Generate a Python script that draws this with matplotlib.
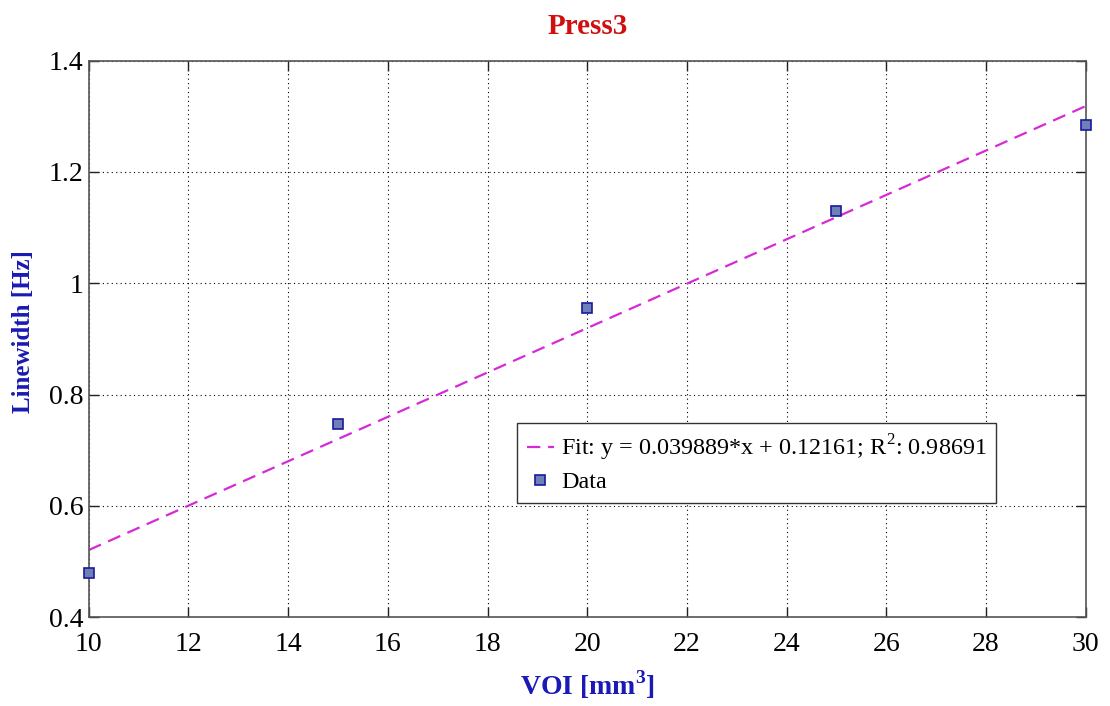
import numpy as np
import matplotlib
matplotlib.use("Agg")
import matplotlib.pyplot as plt
from matplotlib.ticker import FuncFormatter

voi = [10, 15, 20, 25, 30]
linewidth = [0.479, 0.747, 0.956, 1.130, 1.285]

# fit coefficients as printed in the legend
fit_slope = 0.039889
fit_intercept = 0.12161
fit_r2 = 0.98691

x_ticks = [10, 12, 14, 16, 18, 20, 22, 24, 26, 28, 30]
y_ticks = [0.4, 0.6, 0.8, 1.0, 1.2, 1.4]

plt.rcParams['font.family'] = ['Liberation Serif', 'DejaVu Serif']
plt.rcParams['mathtext.fontset'] = 'custom'
plt.rcParams['mathtext.rm'] = 'Liberation Serif'
plt.rcParams['mathtext.bf'] = 'Liberation Serif:bold'

fig = plt.figure(figsize=(11.1, 7.06), dpi=100)
ax = fig.add_axes([0.080, 0.126, 0.898, 0.788])

xfit = np.array([min(voi), max(voi)])
ax.plot(xfit, fit_slope * xfit + fit_intercept, '--', color='#d62ad6', lw=1.6,
        dashes=(6, 3.5),
        label='Fit: y = %g*x + %g; R$^{2}$: %g' % (fit_slope, fit_intercept, fit_r2))
ax.plot(voi, linewidth, 's', ms=7, mfc='#6f80b8', mec='#1a1a9c', mew=1.2,
        label='Data', clip_on=False, zorder=5)

ax.set_xlim(10, 30)
ax.set_ylim(0.4, 1.4)
ax.set_xticks(x_ticks)
ax.set_yticks(y_ticks)
ax.yaxis.set_major_formatter(FuncFormatter(lambda v, p: '%g' % round(v, 2)))
ax.tick_params(direction='in', top=True, right=True, labelsize=20, length=7,
               width=1, colors='#222222', labelcolor='black', pad=4)
ax.tick_params(axis='x', pad=11)
for s in ax.spines.values():
    s.set_color('#555555')
    s.set_linewidth(1.2)
ax.grid(True, linestyle=(0, (1, 3)), color='black', linewidth=0.8)

ax.set_title('Press3', color='#d01010', fontsize=21, fontweight='bold', pad=19)
ax.set_xlabel('VOI [mm$^{\\mathbf{3}}$]', color='#1a1ab4', fontsize=20,
              fontweight='bold', labelpad=8)
ax.set_ylabel('Linewidth [Hz]', color='#1a1ab4', fontsize=18,
              fontweight='bold')
ax.yaxis.set_label_coords(-0.054, 0.514)

leg = ax.legend(loc='lower left', bbox_to_anchor=(0.430, 0.205), fontsize=17.4,
                fancybox=False, framealpha=1, edgecolor='#333333',
                handlelength=1.1, handletextpad=0.3, borderpad=0.4,
                labelspacing=0.33, borderaxespad=0)
leg.get_frame().set_linewidth(1.0)

fig.savefig('out.png', dpi=100)
